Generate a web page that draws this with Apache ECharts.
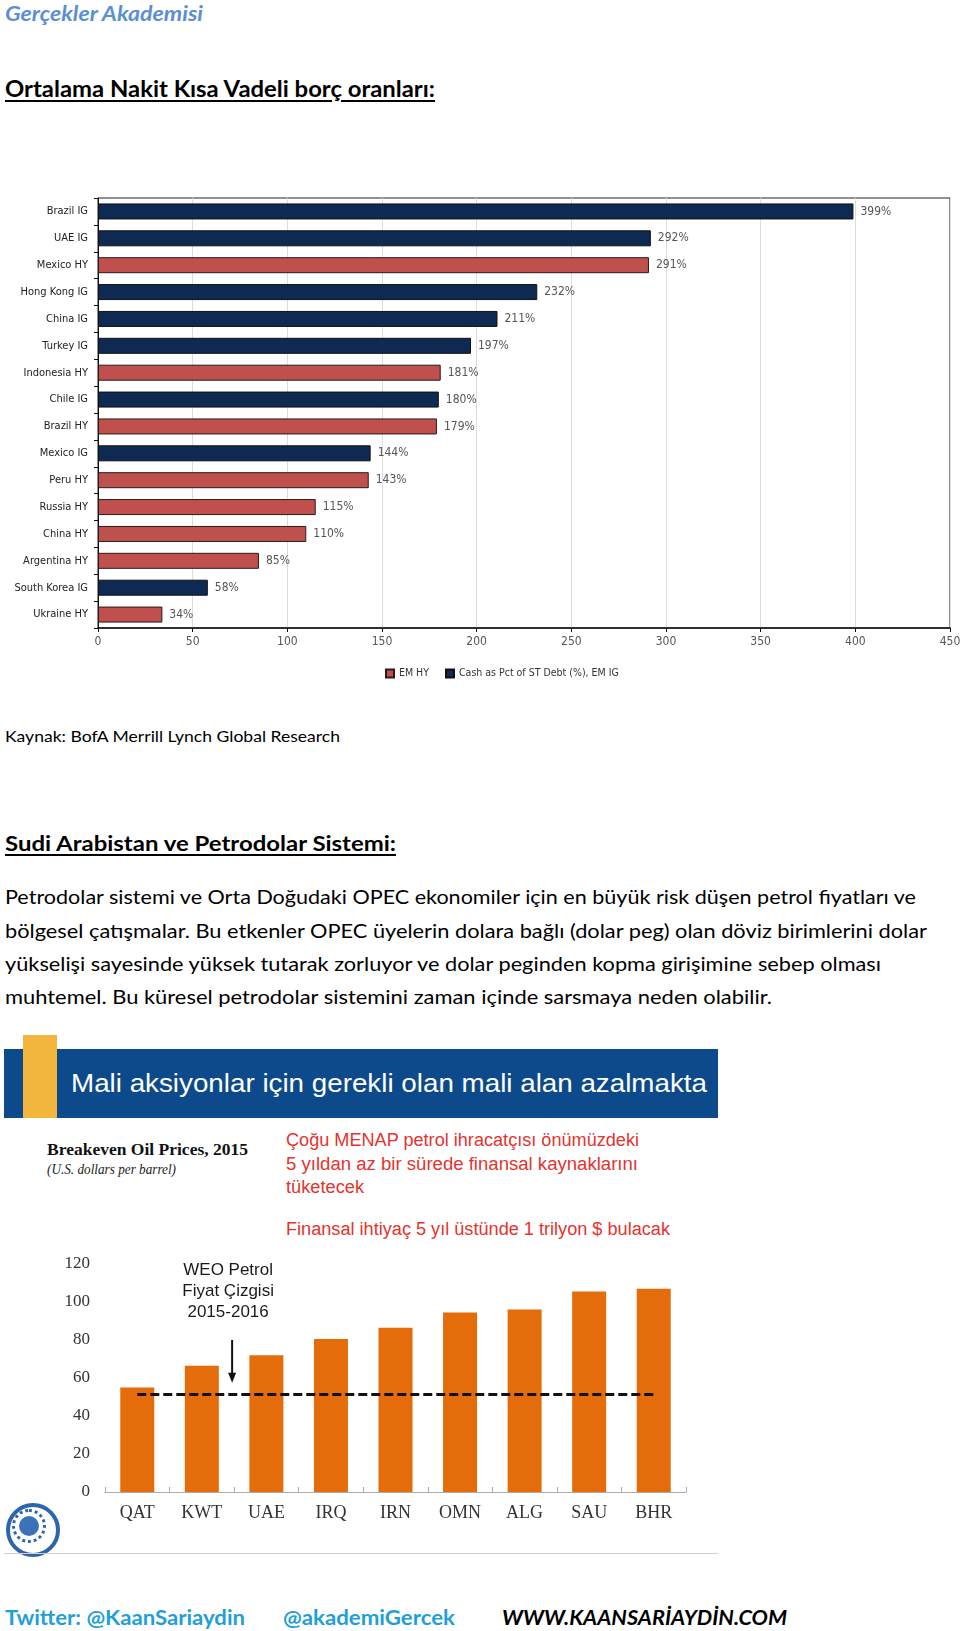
<!DOCTYPE html>
<html>
<head>
<meta charset="utf-8">
<script src="https://cdn.jsdelivr.net/npm/echarts@6/dist/echarts.min.js"></script>
<style>
body{margin:0;background:#fff;}
#page{position:relative;width:960px;height:1631px;overflow:hidden;background:#fff;}
.t{position:absolute;white-space:nowrap;transform-origin:0 50%;font-family:Lato,'Open Sans',sans-serif;color:#000;}
.h{font-weight:bold;text-decoration:underline;text-underline-offset:3px;}
.red{font-family:'Liberation Sans',Arial,sans-serif;color:#e5332e;font-size:18px;line-height:24px;}
</style>
</head>
<body>
<div id="page">
	<!--ust kisim-->
	<div class="t" data-w="198" style="left:5px;top:1px;line-height:24px;font-size:21px;font-weight:bold;font-style:italic;color:#5b8fd3;">Gerçekler Akademisi</div>
	<div class="t h" data-w="430" style="left:5px;top:75px;line-height:28px;font-size:22px;">Ortalama Nakit Kısa Vadeli borç oranları:</div>

	<div id="chart1" style="position:absolute;left:0;top:180px;width:960px;height:510px;"></div>

	<div class="t" data-w="335" style="left:5px;top:724px;line-height:24px;font-size:16px;">Kaynak: BofA Merrill Lynch Global Research</div>
	<div class="t h" data-w="391" style="left:5px;top:829px;line-height:28px;font-size:21px;">Sudi Arabistan ve Petrodolar Sistemi:</div>

	<div class="t" data-w="911" style="left:5px;top:883px;line-height:28px;font-size:19px;">Petrodolar sistemi ve Orta Doğudaki OPEC ekonomiler için en büyük risk düşen petrol fiyatları ve</div>
	<div class="t" data-w="922" style="left:5px;top:917px;line-height:28px;font-size:19px;">bölgesel çatışmalar. Bu etkenler OPEC üyelerin dolara bağlı (dolar peg) olan döviz birimlerini dolar</div>
	<div class="t" data-w="876" style="left:5px;top:950px;line-height:28px;font-size:19px;">yükselişi sayesinde yüksek tutarak zorluyor ve dolar peginden kopma girişimine sebep olması</div>
	<div class="t" data-w="767" style="left:5px;top:983px;line-height:28px;font-size:19px;">muhtemel. Bu küresel petrodolar sistemini zaman içinde sarsmaya neden olabilir.</div>

	<!--IMF gorseli-->
	<div style="position:absolute;left:4px;top:1049px;width:714px;height:69px;background:#0d4a8b;"></div>
	<div style="position:absolute;left:23px;top:1035px;width:34px;height:83px;background:#f2b63f;"></div>
	<div class="t" data-w="636" style="left:71px;top:1068px;line-height:30px;font-size:26px;font-family:'Liberation Sans',Arial,sans-serif;color:#fff;">Mali aksiyonlar için gerekli olan mali alan azalmakta</div>

	<div class="t" data-w="201" style="left:47px;top:1140px;line-height:20px;font-size:16px;font-weight:bold;font-family:'Liberation Serif',serif;color:#111;">Breakeven Oil Prices, 2015</div>
	<div class="t" data-w="129" style="left:47px;top:1161px;line-height:18px;font-size:14px;font-style:italic;font-family:'Liberation Serif',serif;color:#222;">(U.S. dollars per barrel)</div>

	<div class="t red" data-w="353" style="left:286px;top:1128px;">Çoğu MENAP petrol ihracatçısı önümüzdeki</div>
	<div class="t red" data-w="352" style="left:286px;top:1152px;">5 yıldan az bir sürede finansal kaynaklarını</div>
	<div class="t red" data-w="78" style="left:286px;top:1175px;">tüketecek</div>
	<div class="t red" data-w="384" style="left:286px;top:1217px;">Finansal ihtiyaç 5 yıl üstünde 1 trilyon $ bulacak</div>

	<div id="chart2" style="position:absolute;left:0;top:1240px;width:720px;height:320px;"></div>

	<!--IMF muhru (basit)-->
	<div style="position:absolute;left:6px;top:1503px;width:46px;height:46px;border-radius:50%;border:4px solid #2c64ad;background:#fff;"></div>
	<div style="position:absolute;left:12px;top:1509px;width:34px;height:34px;border-radius:50%;border:3px dotted #2c64ad;box-sizing:border-box;"></div>
	<div style="position:absolute;left:19px;top:1516px;width:20px;height:20px;border-radius:50%;background:#3b73b8;"></div>
	<div style="position:absolute;left:4px;top:1553px;width:714px;height:1px;background:#cfcfcf;"></div>

	<!--alt bilgi-->
	<div class="t" data-w="240" style="left:5px;top:1604px;line-height:26px;font-size:20px;font-weight:bold;color:#1fa0d9;">Twitter: @KaanSariaydin</div>
	<div class="t" data-w="172" style="left:283px;top:1604px;line-height:26px;font-size:20px;font-weight:bold;color:#1fa0d9;">@akademiGercek</div>
	<div class="t" data-w="285" style="left:502px;top:1604px;line-height:26px;font-size:20px;font-weight:bold;font-style:italic;color:#000;">WWW.KAANSARİAYDİN.COM</div>
</div>

<script>
	// grafik 1: nakit / kisa vadeli borc
	var countries = ['Brazil IG','UAE IG','Mexico HY','Hong Kong IG','China IG','Turkey IG','Indonesia HY','Chile IG','Brazil HY','Mexico IG','Peru HY','Russia HY','China HY','Argentina HY','South Korea IG','Ukraine HY'];
	var hyValues = ['-','-',291,'-','-','-',181,'-',179,'-',143,115,110,85,'-',34];
	var igValues = [399,292,'-',232,211,197,'-',180,'-',144,'-','-','-','-',58,'-'];
	var xTicks = [0,50,100,150,200,250,300,350,400,450];

	// grafik 2: basabas petrol fiyatlari
	var oilCountries = ['QAT','KWT','UAE','IRQ','IRN','OMN','ALG','SAU','BHR'];
	var breakeven = [55,66.5,72,80.5,86.5,94.5,96,105.5,107];
	var weoLine = [51.3,51.3,51.3,51.3,51.3,51.3,51.3,51.3,51.3];

	var narrow = "'Liberation Sans Narrow','DejaVu Sans Condensed',sans-serif";

	var chart1 = echarts.init(document.getElementById('chart1'));
	chart1.setOption({
		animation:false,
		grid:{left:98,right:10,top:18,bottom:62,show:true,borderColor:'#222',borderWidth:1,containLabel:false,outerBoundsMode:'none'},
		legend:{
			left:380,top:483,icon:'rect',itemWidth:8,itemHeight:8,itemGap:16,
			textStyle:{fontFamily:narrow,fontSize:10.5,color:'#333'},
			data:['EM HY','Cash as Pct of ST Debt (%), EM IG']
		},
		xAxis:{
			type:'value',min:xTicks[0],max:xTicks[xTicks.length-1],interval:50,
			axisLine:{show:true,lineStyle:{color:'#111',width:1.5}},
			axisTick:{show:true,length:4,lineStyle:{color:'#111'}},
			axisLabel:{fontFamily:narrow,fontSize:12,color:'#555',margin:8},
			splitLine:{show:true,lineStyle:{color:'#dcdcdc',width:1}}
		},
		yAxis:{
			type:'category',inverse:true,data:countries,
			axisLine:{show:true,lineStyle:{color:'#111'}},
			axisTick:{show:true,length:4,lineStyle:{color:'#111'}},
			axisLabel:{fontFamily:narrow,fontSize:11,color:'#222',margin:10}
		},
		series:[
			{
				name:'EM HY',type:'bar',data:hyValues,barWidth:16,barGap:'-100%',
				itemStyle:{color:'#c0504d',borderColor:'#2a1a1a',borderWidth:1},
				label:{show:true,position:'right',distance:7,formatter:'{c}%',fontFamily:narrow,fontSize:12,color:'#555'}
			},
			{
				name:'Cash as Pct of ST Debt (%), EM IG',type:'bar',data:igValues,barWidth:16,barGap:'-100%',
				itemStyle:{color:'#0f2a52',borderColor:'#111',borderWidth:1},
				label:{show:true,position:'right',distance:7,formatter:'{c}%',fontFamily:narrow,fontSize:12,color:'#555'}
			}
		]
	});

	var chart2 = echarts.init(document.getElementById('chart2'));
	chart2.setOption({
		animation:false,
		grid:{left:105,right:34,top:24,bottom:68,containLabel:false,outerBoundsMode:'none'},
		xAxis:{
			type:'category',data:oilCountries,
			axisLine:{show:true,lineStyle:{color:'#aaa'}},
			axisTick:{show:true,inside:true,length:5,lineStyle:{color:'#aaa'}},
			axisLabel:{fontFamily:"'Liberation Serif',serif",fontSize:18,color:'#333',margin:12}
		},
		yAxis:{
			type:'value',min:0,max:120,interval:20,
			axisLine:{show:false},axisTick:{show:false},splitLine:{show:false},
			axisLabel:{fontFamily:"'Liberation Serif',serif",fontSize:17,color:'#333',margin:15}
		},
		series:[
			{type:'bar',data:breakeven,barWidth:34,itemStyle:{color:'#e46c0a'}},
			{type:'line',data:weoLine,symbol:'none',lineStyle:{color:'#111',width:3,type:[9,4]},z:5}
		]
	});

	// ok ve aciklama: KWT ile UAE arasina
	var ax = (chart2.convertToPixel({xAxisIndex:0},'KWT') + chart2.convertToPixel({xAxisIndex:0},'UAE'))/2 - 2;
	var yTop = chart2.convertToPixel({yAxisIndex:0},80);
	var yTip = chart2.convertToPixel({yAxisIndex:0},57.5);
	var yText = chart2.convertToPixel({yAxisIndex:0},122);
	chart2.setOption({
		graphic:[
			{type:'line',shape:{x1:ax,y1:yTop,x2:ax,y2:yTip-8},style:{stroke:'#111',lineWidth:2}},
			{type:'polygon',shape:{points:[[ax-4,yTip-10],[ax+4,yTip-10],[ax,yTip]]},style:{fill:'#111'}},
			{type:'text',x:ax-4,y:yText,style:{text:'WEO Petrol\nFiyat Çizgisi\n2015-2016',align:'center',verticalAlign:'top',lineHeight:21,font:"17px 'Liberation Sans', Arial, sans-serif",fill:'#1a1a1a'}}
		]
	});

	// metin genisliklerini referansa uydur
	document.querySelectorAll('[data-w]').forEach(function(el){
		var w = el.getBoundingClientRect().width;
		el.style.transform = 'scaleX(' + (parseFloat(el.dataset.w)/w) + ')';
	});
</script>
</body>
</html>
